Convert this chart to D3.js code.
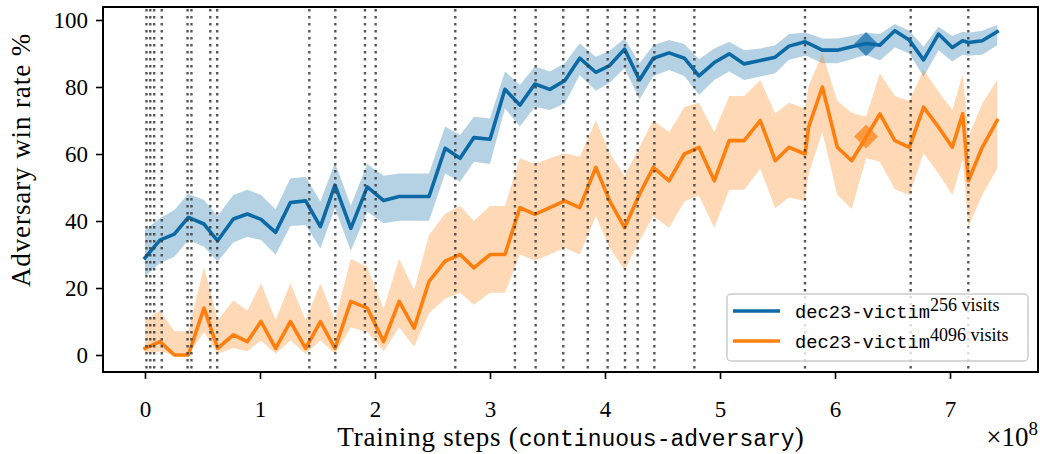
<!DOCTYPE html>
<html>
<head>
<meta charset="utf-8">
<script src="https://cdn.jsdelivr.net/npm/d3@7"></script>
<style>
  html, body { margin: 0; padding: 0; background: #fff; }
  svg { display: block; }
</style>
</head>
<body>
<svg id="chart" width="1040" height="454"></svg>
<script>
// ---------------- data ----------------
const steps = [0, 0.13, 0.255, 0.377, 0.513, 0.632, 0.768, 0.89, 1.009, 1.136,
  1.264, 1.397, 1.525, 1.652, 1.79, 1.933, 2.075, 2.21, 2.34, 2.47,
  2.61, 2.74, 2.86, 3.0, 3.13, 3.26, 3.39, 3.52, 3.65, 3.78,
  3.92, 4.04, 4.17, 4.30, 4.42, 4.557, 4.69, 4.817, 4.95, 5.08,
  5.21, 5.35, 5.48, 5.60, 5.74, 5.77, 5.89, 6.02, 6.145, 6.27,
  6.39, 6.52, 6.646, 6.77, 6.9, 7.02, 7.11, 7.16, 7.28, 7.41];

const win256 = [29.0, 34.3, 36.1, 41.1, 39.1, 34.1, 40.6, 42.1, 40.5, 36.6,
  45.5, 46.0, 38.3, 50.7, 37.8, 50.2, 46.1, 47.3, 47.3, 47.3,
  61.7, 58.7, 64.9, 64.4, 79.3, 74.6, 80.9, 79.3, 81.9, 88.6,
  84.4, 86.4, 91.3, 82.1, 88.6, 90.2, 88.6, 83.3, 87.3, 89.9,
  86.9, 87.9, 88.9, 92.2, 93.5, 93.0, 91.0, 91.0, 92.0, 93.0,
  92.5, 96.8, 94.0, 88.1, 95.8, 91.8, 93.8, 93.3, 93.8, 96.5];
const lo256 = [23.4, 27.4, 29.3, 34.3, 32.3, 27.9, 33.6, 35.3, 34.3, 29.9,
  38.5, 38.8, 31.8, 43.8, 31.1, 42.8, 39.3, 40.1, 40.1, 40.1,
  54.2, 51.7, 57.7, 57.0, 73.6, 68.2, 74.1, 73.1, 75.1, 83.6,
  78.9, 81.3, 85.6, 76.3, 83.3, 85.1, 83.3, 77.6, 82.1, 84.6,
  82.1, 83.1, 84.1, 88.1, 89.3, 89.0, 87.1, 87.1, 88.3, 89.6,
  87.9, 91.8, 90.0, 83.1, 91.0, 87.6, 89.6, 89.3, 89.6, 92.5];
const hi256 = [37.3, 40.8, 43.3, 48.1, 46.3, 41.5, 47.8, 49.3, 47.8, 43.5,
  52.7, 53.2, 45.8, 57.4, 44.6, 57.0, 53.5, 54.2, 54.2, 54.2,
  68.2, 65.7, 71.1, 70.6, 84.6, 80.6, 86.1, 84.6, 87.1, 93.0,
  89.0, 90.8, 94.5, 87.1, 92.5, 94.0, 92.8, 88.3, 91.5, 93.5,
  91.0, 91.5, 92.5, 95.8, 96.2, 96.0, 94.5, 94.5, 95.2, 96.2,
  95.8, 98.8, 96.8, 92.0, 98.0, 95.2, 96.5, 96.2, 96.8, 98.5];

const win4096 = [2, 4, 0, 0, 14, 2, 6, 4, 10, 2,
  10, 2, 10, 2, 16, 14, 4, 16, 8, 22,
  28, 30, 26, 30, 30, 44, 42, 44, 46, 44,
  56, 46, 38, 48, 56, 52, 60, 62, 52, 64,
  64, 70, 58, 62, 60, 68, 80, 62, 58, 65,
  72, 64, 62, 74, 68, 62, 72, 52, 62, 70];
const lo4096 = [0.4, 1.1, 0, 0, 6.9, 0.4, 2.1, 1.1, 4.3, 0.4,
  4.3, 0.4, 4.3, 0.4, 8.3, 6.9, 1.1, 8.3, 2.5, 12.5,
  16.8, 18.6, 15.0, 18.6, 18.6, 30.0, 28.2, 30.0, 32.0, 30.0,
  41.5, 32.0, 25.4, 34.2, 41.5, 38.0, 45.8, 47.6, 38.0, 49.3,
  49.3, 55.6, 43.8, 47.0, 46.0, 54.0, 66.6, 47.8, 43.6, 58.7,
  57.7, 49.5, 47.8, 60.2, 54.2, 47.8, 58.2, 38.3, 47.8, 55.7];
const hi4096 = [10.4, 13.2, 7.1, 7.1, 26.3, 10.4, 16.3, 13.2, 21.4, 10.4,
  21.4, 10.4, 21.4, 10.4, 28.7, 26.3, 13.8, 28.7, 19.4, 35.8,
  42.2, 44.5, 40.0, 44.5, 44.5, 58.7, 57.0, 58.7, 60.2, 59.2,
  70.1, 60.4, 53.4, 62.2, 70.1, 66.5, 74.0, 75.3, 66.5, 77.3,
  77.3, 82.1, 72.1, 75.3, 73.6, 80.2, 90.0, 75.8, 72.3, 71.1,
  84.0, 77.3, 75.8, 85.1, 78.6, 73.1, 83.9, 65.2, 75.1, 82.1];

// checkpoint markers (dotted vertical lines), in units of 1e8 steps
const checkpoints = [0.013, 0.046, 0.08, 0.146, 0.37, 0.404, 0.568, 0.628,
  1.429, 1.655, 1.913, 2.006, 2.698, 3.217, 3.397, 3.637, 3.85, 4.023,
  4.174, 4.284, 4.429, 4.777, 5.739, 6.658, 7.159];

// highlighted checkpoint (diamonds)
const highlightStep = [6.27];
const highlight256 = [92.8];
const highlight4096 = [65.2];

const xTicks = [0, 1, 2, 3, 4, 5, 6, 7];
const yTicks = [0, 20, 40, 60, 80, 100];

const seriesNames = ["dec23-victim", "dec23-victim"];
const seriesSup = ["256 visits", "4096 visits"];

// ---------------- drawing ----------------
const C_BLUE = "#0b6aa6";
const C_ORANGE = "#ff7f0e";
const SERIF = "'Liberation Serif', 'DejaVu Serif', serif";
const MONO = "'Liberation Mono', 'DejaVu Sans Mono', monospace";

const svg = d3.select("#chart");
const L = 103, R = 1038, T = 7, B = 372;

const x = d3.scaleLinear().domain([-0.365, 7.765]).range([L, R]);
const y = d3.scaleLinear().domain([-5.07, 103.88]).range([B, T]);

svg.append("rect").attr("width", 1040).attr("height", 454).attr("fill", "#fff");

svg.append("defs").append("clipPath").attr("id", "clip")
  .append("rect").attr("x", L).attr("y", T).attr("width", R - L).attr("height", B - T);

const plot = svg.append("g").attr("clip-path", "url(#clip)");

function rows(v, lo, hi) {
  return steps.map((s, i) => ({ x: s, v: v[i], lo: lo[i], hi: hi[i] }));
}
const series = [
  { data: rows(win256, lo256, hi256), color: C_BLUE, hx: highlightStep, hv: highlight256 },
  { data: rows(win4096, lo4096, hi4096), color: C_ORANGE, hx: highlightStep, hv: highlight4096 }
];

const area = d3.area().x(d => x(d.x)).y0(d => y(d.lo)).y1(d => y(d.hi));
const line = d3.line().x(d => x(d.x)).y(d => y(d.v));

series.forEach(s => {
  plot.append("path").datum(s.data).attr("d", area)
    .attr("fill", s.color).attr("fill-opacity", 0.3).attr("stroke", "none");
});

series.forEach(s => {
  plot.append("path").datum(s.data).attr("d", line)
    .attr("fill", "none").attr("stroke", s.color).attr("stroke-width", 3.6)
    .attr("stroke-linejoin", "round").attr("stroke-linecap", "square");
});

// diamonds
const diamond = d3.symbol().type(d3.symbolSquare).size(17 * 17);
series.forEach(s => {
  s.hx.forEach((hx, i) => {
    plot.append("path").attr("d", diamond)
      .attr("transform", `translate(${x(hx)},${y(s.hv[i])}) rotate(45)`)
      .attr("fill", s.color).attr("fill-opacity", 0.7);
  });
});

// checkpoint dotted lines
plot.selectAll("line.ckpt").data(checkpoints).enter().append("line")
  .attr("class", "ckpt")
  .attr("x1", d => x(d)).attr("x2", d => x(d))
  .attr("y1", T + 2).attr("y2", B)
  .attr("stroke", "#3a3a3a").attr("stroke-opacity", 0.85)
  .attr("stroke-width", 2.4).attr("stroke-dasharray", "2.4,4.6");

// axes
const xAxis = svg.append("g").attr("transform", `translate(0,${B})`)
  .call(d3.axisBottom(x).tickValues(xTicks).tickFormat(d3.format("d"))
    .tickSize(7).tickPadding(22));
const yAxis = svg.append("g").attr("transform", `translate(${L},0)`)
  .call(d3.axisLeft(y).tickValues(yTicks).tickFormat(d3.format("d"))
    .tickSize(7).tickPadding(8));
[xAxis, yAxis].forEach(g => {
  g.select(".domain").remove();
  g.selectAll(".tick line").attr("stroke", "#000").attr("stroke-width", 1.6);
  g.selectAll(".tick text").attr("fill", "#000")
    .style("font-family", SERIF).style("font-size", "23px");
});

// frame
svg.append("rect").attr("x", L).attr("y", T).attr("width", R - L).attr("height", B - T)
  .attr("fill", "none").attr("stroke", "#000").attr("stroke-width", 2);

// x label
const xl = svg.append("text").attr("x", (L + R) / 2).attr("y", 446)
  .attr("text-anchor", "middle").attr("fill", "#000")
  .style("font-family", SERIF).style("font-size", "27px");
xl.append("tspan").style("letter-spacing", "0.8px").text("Training steps (");
xl.append("tspan").style("font-family", MONO).style("font-size", "23px").text("continuous-adversary");
xl.append("tspan").text(")");

// x offset text
const xo = svg.append("text").attr("x", R).attr("y", 446).attr("text-anchor", "end")
  .attr("fill", "#000").style("font-family", SERIF).style("font-size", "27px");
xo.append("tspan").text("×10");
xo.append("tspan").attr("dy", -11).style("font-size", "19px").text("8");

// y label
svg.append("text")
  .attr("transform", `translate(30,160) rotate(-90)`)
  .attr("text-anchor", "middle").attr("fill", "#000")
  .style("font-family", SERIF).style("font-size", "27px").style("letter-spacing", "0.9px")
  .text("Adversary win rate %");

// legend
const lg = svg.append("g");
lg.append("rect").attr("x", 727).attr("y", 294).attr("width", 301).attr("height", 67)
  .attr("rx", 4).attr("fill", "#fff").attr("fill-opacity", 0.8)
  .attr("stroke", "#cccccc").attr("stroke-width", 1.5);
series.forEach((s, i) => {
  const cy = 311 + i * 30;
  lg.append("line").attr("x1", 733).attr("x2", 780).attr("y1", cy).attr("y2", cy)
    .attr("stroke", s.color).attr("stroke-width", 3.6);
  const t = lg.append("text").attr("x", 795).attr("y", cy + 7).attr("fill", "#000");
  t.append("tspan").style("font-family", MONO).style("font-size", "18.75px").text(seriesNames[i]);
  t.append("tspan").attr("dy", -7).style("font-family", SERIF).style("font-size", "18px").text(seriesSup[i]);
});
</script>
</body>
</html>
